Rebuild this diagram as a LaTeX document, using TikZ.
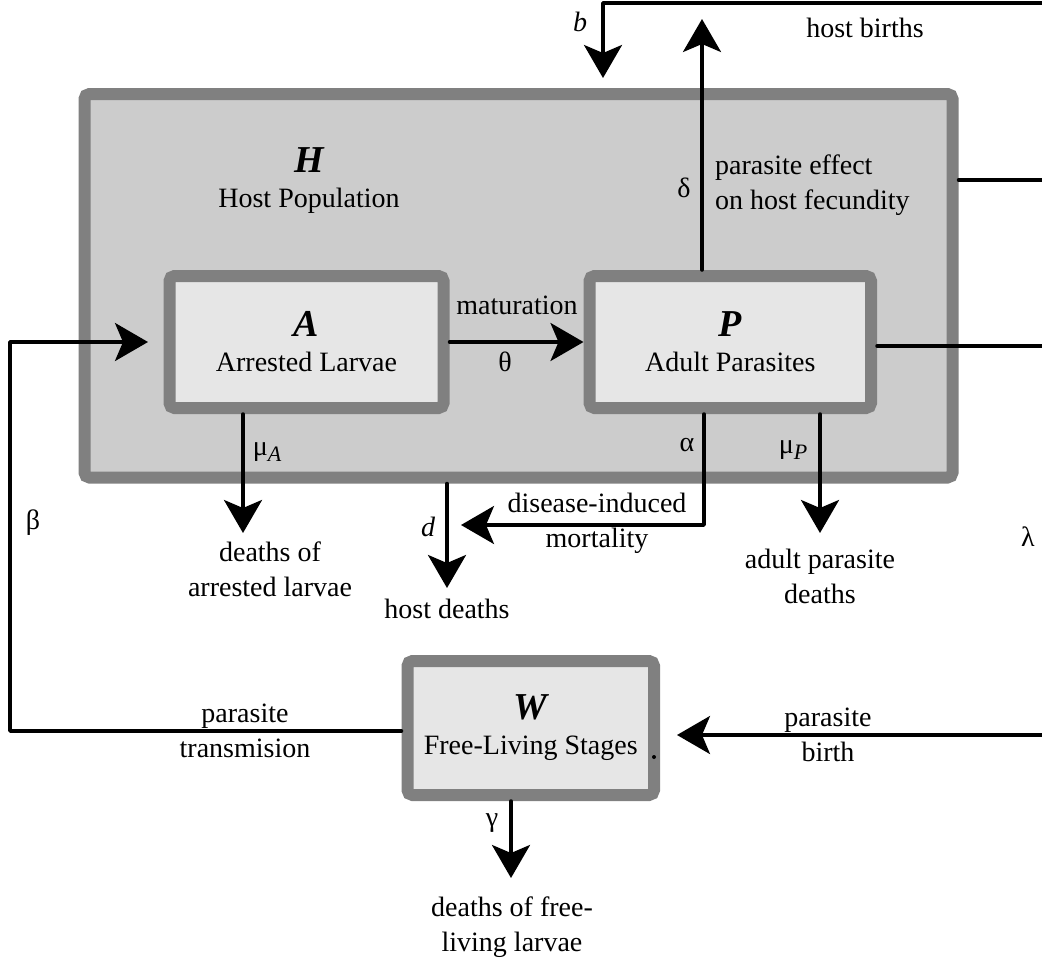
\documentclass[tikz,border=0pt]{standalone}
\usepackage{fontspec}
\setmainfont{Liberation Serif}
\usetikzlibrary{arrows.meta,calc}

\definecolor{boxedge}{HTML}{808080}
\definecolor{hostfill}{HTML}{CCCCCC}
\definecolor{compfill}{HTML}{E6E6E6}

% large bold-italic compartment symbol
\newcommand\completter[1]{{\fontsize{38}{38}\selectfont\bfseries\itshape #1}}
% italic lowered index for rate symbols
\newcommand\lowidx[1]{\raisebox{-0.22em}{\fontsize{22}{22}\selectfont\itshape #1}}

\begin{document}
\begin{tikzpicture}[x=1pt,y=-1pt,
  every node/.style={font=\fontsize{28}{35}\selectfont, inner sep=0pt},
  outerbox/.style={draw=boxedge, fill=hostfill, line width=12pt, rounded corners=5pt, inner sep=0pt},
  compbox/.style={draw=boxedge, fill=compfill, line width=12pt, rounded corners=5pt, inner sep=0pt, align=center},
  link/.style={line width=3.5pt, line cap=round, line join=round},
  flow/.style={link, -{Stealth[length=33pt,width=38pt,inset=8pt]}},
  twoline/.style={align=center}
]
\useasboundingbox (0,0) rectangle (1042,959);

% compartments
\node[outerbox, minimum width=868pt, minimum height=383.5pt] (H) at (518.5,285.75) {};
\node[twoline] (Htext) at (309,181) {\completter{H}\\Host Population};
\node[compbox, minimum width=274pt, minimum height=132pt] (A) at (306.5,342) {\completter{A}\\Arrested Larvae};
\node[compbox, minimum width=281.5pt, minimum height=132pt] (P) at (730.25,342) {\completter{P}\\Adult Parasites};
\node[compbox, minimum width=246.5pt, minimum height=134pt] (W) at (530.75,728) {\completter{W}\\Free-Living Stages};
\fill (654,757) circle (2pt);

% free ends and corners of the flows
\coordinate (hbR) at (1042,3);
\coordinate (hbC) at (603,3);
\coordinate (hbTip) at (603,78);
\coordinate (fecTip) at (702,19);
\coordinate (fecOut) at (1042,180);
\coordinate (birthOut) at (1042,346);
\coordinate (trC1) at (10,731);
\coordinate (trC2) at (10,342);
\coordinate (trTip) at (148,342);
\coordinate (muATip) at (243,533);
\coordinate (dTip) at (447,588);
\coordinate (alC) at (704,525);
\coordinate (alTip) at (461,525);
\coordinate (muPTip) at (820,533);
\coordinate (pbIn) at (1042,735);
\coordinate (pbTip) at (677,735);
\coordinate (gTip) at (511,878);

% flows
\draw[flow] (hbR) -- (hbC) -- (hbTip);
\draw[flow] (P.north -| fecTip) -- (fecTip);
\draw[link] (H.east |- fecOut) -- (fecOut);
\draw[link] (P.east |- birthOut) -- (birthOut);
\draw[flow] (A.east) -- (P.west);
\draw[flow] (W.west |- trC1) -- (trC1) -- (trC2) -- (trTip);
\draw[flow] (A.south -| muATip) -- (muATip);
\draw[flow] (H.south -| dTip) -- (dTip);
\draw[flow] (P.south -| alC) -- (alC) -- (alTip);
\draw[flow] (P.south -| muPTip) -- (muPTip);
\draw[flow] (pbIn) -- (pbTip);
\draw[flow] (W.south -| gTip) -- (gTip);

% labels
\node (lb) at (580,22) {\itshape b};
\node (lhb) at (865,28) {host births};
\node (ldelta) at (684,188) {δ};
\node[anchor=west, align=left] (lfec) at (715,185.5) {parasite effect\\on host fecundity};
\node (lmat) at (517,305) {maturation};
\node (ltheta) at (505,362) {θ};
\node (lmuA) at (267,452) {μ\lowidx{A}};
\node[twoline] (ldA) at (270,569) {deaths of\\arrested larvae};
\node (ld) at (428,527) {\itshape d};
\node[twoline] (ldis) at (597,523) {disease-induced\\mortality};
\node (lalpha) at (687,445) {α};
\node (lmuP) at (793,450) {μ\lowidx{P}};
\node[twoline] (ldP) at (820,576) {adult parasite\\deaths};
\node (lhd) at (447,609) {host deaths};
\node (lbeta) at (33,523) {β};
\node (llambda) at (1028,537) {λ};
\node[twoline] (ltr) at (245,731) {parasite\\transmision};
\node[twoline] (lpb) at (828,735) {parasite\\birth};
\node (lgamma) at (492,823) {γ};
\node[twoline] (ldW) at (512,927) {deaths of free-\\living larvae};
\end{tikzpicture}
\end{document}
